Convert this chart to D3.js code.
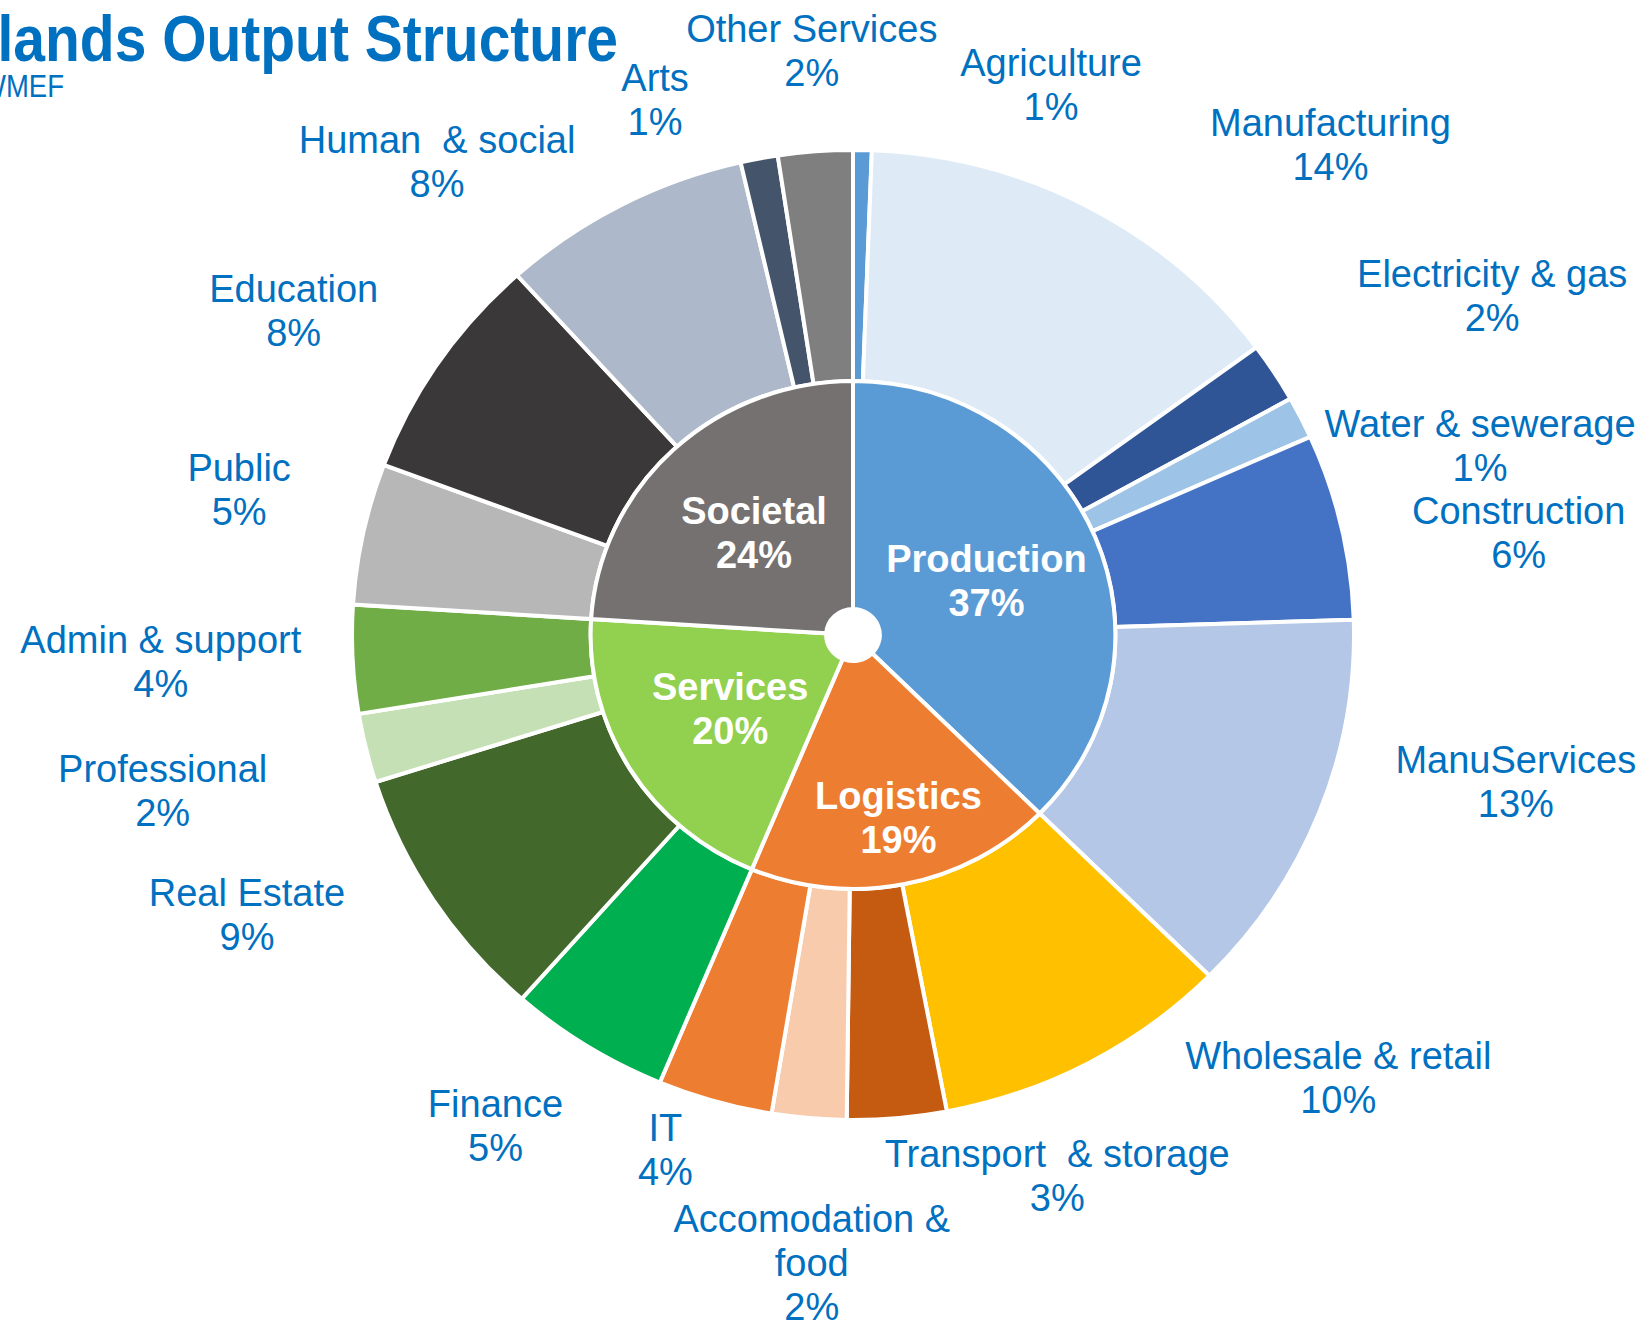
<!DOCTYPE html>
<html>
<head>
<meta charset="utf-8">
<script src="https://cdn.jsdelivr.net/npm/d3@7"></script>
<style>
  body { margin: 0; background: #fff; }
  svg text { font-family: "Liberation Sans", Arial, sans-serif; white-space: pre; }
</style>
</head>
<body>
<div id="chart"></div>
<script>
// sectors of the outer ring, clockwise from 12 o'clock
const sectors = ["Agriculture", "Manufacturing", "Electricity & gas", "Water & sewerage", "Construction", "ManuServices",
  "Wholesale & retail", "Transport  & storage", "Accomodation &\nfood", "IT",
  "Finance", "Real Estate", "Professional", "Admin & support",
  "Public", "Education", "Human  & social", "Arts", "Other Services"];
const sectorGroup = ["Production", "Production", "Production", "Production", "Production", "Production",
  "Logistics", "Logistics", "Logistics", "Logistics",
  "Services", "Services", "Services", "Services",
  "Societal", "Societal", "Societal", "Societal", "Societal"];
const sectorShare = [0.6, 14.3, 2.0, 1.4, 6.2, 12.9,
  9.6, 3.2, 2.4, 3.7,
  5.2, 8.6, 2.3, 3.6,
  4.7, 7.6, 8.1, 1.2, 2.4];
const groups = ["Production", "Logistics", "Services", "Societal"];

// styles
const sectorColor = ["#5b9bd5", "#deebf7", "#2f5597", "#9dc3e6", "#4472c4", "#b4c7e7",
  "#ffc000", "#c55a11", "#f8cbad", "#ed7d31",
  "#00b050", "#43682b", "#c5e0b4", "#70ad47",
  "#b7b7b7", "#3a3838", "#adb9ca", "#44546a", "#7f7f7f"];
const groupColor = { Production: "#5b9bd5", Logistics: "#ed7d31", Services: "#92d050", Societal: "#767171" };

// label nudges (px) from the default spot on the label circle
const labelNudge = [[186, 90], [178, 76], [101, 7], [55, 98], [42, 42], [67, -87],
  [184, -122], [148, -97], [15, -10], [-11, -100],
  [-18, -52], [-70, -70], [-68, 7], [-53, -5],
  [12, -11], [-30, 36], [-120, 94], [-78, 94], [7, 54]];
const groupNudge = { Logistics: [17, 46] };

const width = 1648, height = 1323;
const cx = 853, cy = 635, sx = 1.033;
const rHole = 26, rMid = 254, rOuter = 485, rLabel = 640;
const blue = "#0070c0";

const svg = d3.select("#chart").append("svg")
  .attr("width", width).attr("height", height);

svg.append("rect").attr("width", width).attr("height", height).attr("fill", "#fff");

const outerData = sectors.map((s, i) => ({ name: s, group: sectorGroup[i], value: sectorShare[i], color: sectorColor[i], i }));
const groupTotals = d3.rollup(outerData, v => d3.sum(v, d => d.value), d => d.group);
const innerData = groups.map(g => ({ name: g, value: groupTotals.get(g) }));
const total = d3.sum(sectorShare);

const pie = d3.pie().sort(null).value(d => d.value);
const outerArc = d3.arc().innerRadius(rMid).outerRadius(rOuter);
const innerArc = d3.arc().innerRadius(rHole).outerRadius(rMid);

const ring = svg.append("g")
  .attr("transform", `translate(${cx},${cy}) scale(${sx},1)`);

ring.selectAll("path.outer")
  .data(pie(outerData))
  .enter().append("path")
  .attr("class", "outer")
  .attr("d", outerArc)
  .attr("fill", d => d.data.color)
  .attr("stroke", "#fff")
  .attr("stroke-width", 4)
  .attr("stroke-linejoin", "miter")
  .style("vector-effect", "non-scaling-stroke");

ring.selectAll("path.inner")
  .data(pie(innerData))
  .enter().append("path")
  .attr("class", "inner")
  .attr("d", innerArc)
  .attr("fill", d => groupColor[d.data.name])
  .attr("stroke", "#fff")
  .attr("stroke-width", 4)
  .style("vector-effect", "non-scaling-stroke");

const lineH = 44, fs = 38;

function block(g, x, y, lines, opts) {
  const t = g.append("text")
    .attr("text-anchor", "middle")
    .attr("font-size", fs)
    .attr("fill", opts.fill)
    .attr("font-weight", opts.weight || "normal");
  const top = y - (lines.length - 1) * lineH / 2 + 13;
  lines.forEach((l, k) => {
    t.append("tspan").attr("x", x).attr("y", top + k * lineH).text(l);
  });
}

// inner labels
pie(innerData).forEach(d => {
  const c = innerArc.centroid(d);
  const n = groupNudge[d.data.name] || [0, 0];
  block(svg, cx + c[0] * sx + n[0], cy + c[1] + n[1],
    [d.data.name, Math.round(d.value / total * 100) + "%"],
    { fill: "#fff", weight: "bold" });
});

// outer labels
pie(outerData).forEach(d => {
  const a = (d.startAngle + d.endAngle) / 2;
  const n = labelNudge[d.data.i];
  const x = cx + rLabel * Math.sin(a) + n[0];
  const y = cy - rLabel * Math.cos(a) + n[1];
  const lines = d.data.name.split("\n").concat([Math.round(d.data.value / total * 100) + "%"]);
  block(svg, x, y, lines, { fill: blue });
});

// title (cut at the left edge as in the source)
svg.append("text")
  .attr("x", -183).attr("y", 61)
  .attr("font-size", 64).attr("font-weight", "bold")
  .attr("fill", blue)
  .attr("textLength", 801)
  .attr("lengthAdjust", "spacingAndGlyphs")
  .text("Netherlands Output Structure");

svg.append("text")
  .attr("transform", "translate(64,97) scale(0.86,1)")
  .attr("text-anchor", "end")
  .attr("font-size", 32)
  .attr("fill", blue)
  .text("Source: WMEF");
</script>
</body>
</html>
